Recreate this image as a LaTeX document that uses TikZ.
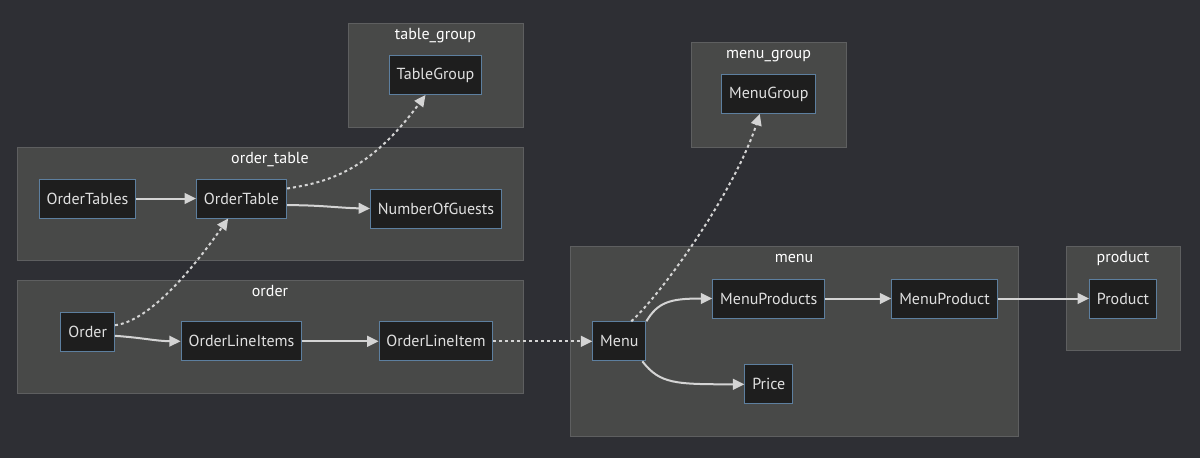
\documentclass[tikz,border=0pt]{standalone}
\usepackage{fontspec}
\setmainfont{PT Sans}
\usetikzlibrary{arrows.meta}
\definecolor{bgdark}{HTML}{2E2F34}
\definecolor{clusterfill}{HTML}{484948}
\definecolor{clusterline}{HTML}{5E5F60}
\definecolor{entityfill}{HTML}{1E1E1E}
\definecolor{entityline}{HTML}{5D7F9F}
\definecolor{edgegrey}{HTML}{D4D4D4}
\definecolor{labelgrey}{HTML}{E0E0E0}
\tikzset{
  cluster/.style={fill=clusterfill, draw=clusterline, line width=0.75pt},
  clusterlabel/.style={text=white, font=\fontsize{12}{14}\selectfont, inner sep=0pt, anchor=base},
  entity/.style={fill=entityfill, draw=entityline, line width=0.75pt, text=labelgrey,
    font=\fontsize{12}{14}\selectfont, minimum height=29.25pt, inner xsep=5.6pt},
  link/.style={draw=edgegrey, line width=1.5pt, -{Triangle[length=8.5pt,width=8pt]}},
  weaklink/.style={link, dash pattern=on 2.25pt off 2.25pt},
}
\begin{document}
\begin{tikzpicture}[x=0.75pt, y=-0.75pt]
    \fill[bgdark] (0,0) rectangle (1200,458);
    \useasboundingbox (0,0) rectangle (1200,458);

    \draw[cluster] (348,23) rectangle (523,127);
    \node[clusterlabel] (tglabel) at (435.5,39) {table\_group};
    \draw[cluster] (17,147) rectangle (523,260);
    \node[clusterlabel] (otlabel) at (270,163) {order\_table};
    \draw[cluster] (17,280) rectangle (523,393);
    \node[clusterlabel] (olabel) at (270,296) {order};
    \draw[cluster] (691,42) rectangle (846,147);
    \node[clusterlabel] (mglabel) at (768.5,58) {menu\_group};
    \draw[cluster] (570,246) rectangle (1018,436);
    \node[clusterlabel] (mlabel) at (794,262) {menu};
    \draw[cluster] (1066,246) rectangle (1180,350);
    \node[clusterlabel] (plabel) at (1123,262) {product};

    \node[entity] (tg) at (435.5,75) {TableGroup};
    \node[entity] (ots) at (87.5,198.5) {OrderTables};
    \node[entity] (ot) at (241.5,198.5) {OrderTable};
    \node[entity] (nog) at (436,208.5) {NumberOfGuests};
    \node[entity] (o) at (87.7,331.8) {Order};
    \node[entity] (olis) at (241.5,341.3) {OrderLineItems};
    \node[entity] (oli) at (436,341.3) {OrderLineItem};
    \node[entity] (mg) at (768.8,94) {MenuGroup};
    \node[entity] (m) at (619.3,341.3) {Menu};
    \node[entity] (mps) at (768.8,298.5) {MenuProducts};
    \node[entity] (pr) at (768.8,384.3) {Price};
    \node[entity] (mp) at (944.5,298.5) {MenuProduct};
    \node[entity] (p) at (1123,298.5) {Product};

    \draw[link] (ots) -- (ot);
    \draw[link] ([yshift=-5pt]ot.east) .. controls (320,205) and (340,208) .. (nog.west);
    \draw[weaklink] ([yshift=7.5pt]ot.east) .. controls (330,182) and (370,170) .. ([xshift=-7.5pt]tg.south);
    \draw[weaklink] ([yshift=5pt]o.east) .. controls (145,322) and (185,280) .. ([xshift=-10pt]ot.south);
    \draw[link] ([yshift=-3pt]o.east) .. controls (145,338) and (155,341) .. (olis.west);
    \draw[link] (olis) -- (oli);
    \draw[weaklink] (oli) -- (m);
    \draw[weaklink] ([xshift=9pt]m.north) .. controls (665,290) and (735,190) .. ([xshift=-6.75pt]mg.south);
    \draw[link] (m.north east) .. controls (658,302) and (670,298.5) .. (mps.west);
    \draw[link] ([xshift=-3pt]m.south east) .. controls (660,384) and (675,384.3) .. (pr.west);
    \draw[link] (mps) -- (mp);
    \draw[link] (mp) -- (p);
\end{tikzpicture}
\end{document}
